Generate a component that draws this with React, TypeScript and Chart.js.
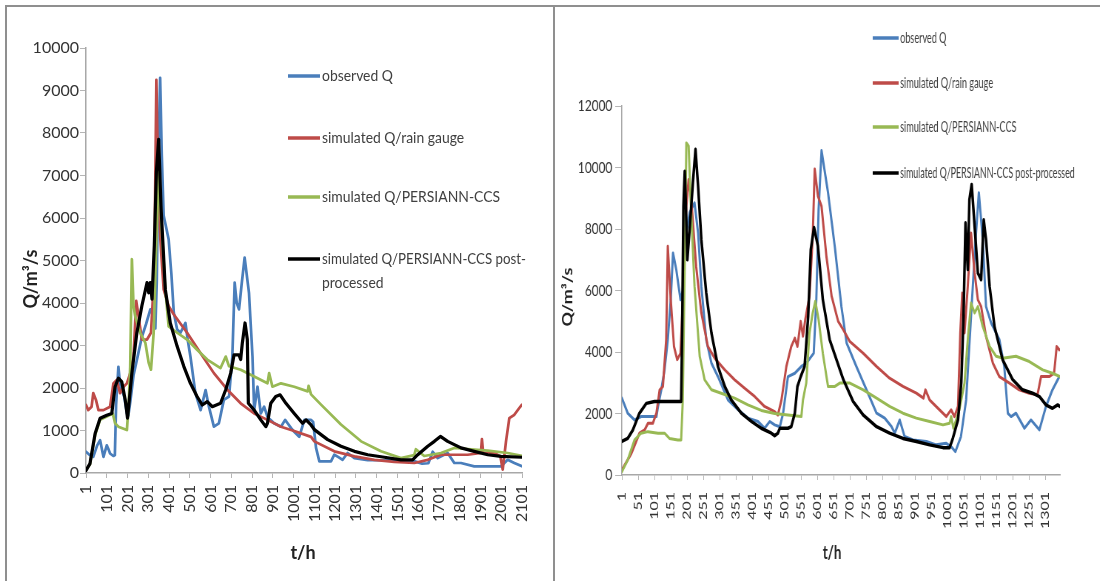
import React, { useEffect, useRef } from "react";
import { Chart, registerables } from "chart.js";

Chart.register(...registerables);

// ---------- series names / colours ----------
const seriesNames = [
  "observed Q",
  "simulated Q/rain gauge",
  "simulated Q/PERSIANN-CCS",
  "simulated Q/PERSIANN-CCS post-processed",
];
const seriesColors = ["#4a7ebb", "#be4b48", "#98b954", "#000000"];

// ---------- axis ticks ----------
const leftXTicks = [1, 101, 201, 301, 401, 501, 601, 701, 801, 901, 1001, 1101, 1201, 1301, 1401, 1501, 1601, 1701, 1801, 1901, 2001, 2101];
const rightXTicks = [1, 51, 101, 151, 201, 251, 301, 351, 401, 451, 501, 551, 601, 651, 701, 751, 801, 851, 901, 951, 1001, 1051, 1101, 1151, 1201, 1251, 1301];
const leftYMax = 10000;
const leftYStep = 1000;
const rightYMax = 12000;
const rightYStep = 2000;
const leftXMax = 2101;
const rightXMax = 1346;

type Pt = [number, number];

// ---------- left panel data: [t (h), Q (m3/s)] ----------
const leftObserved: Pt[] = [[1,500],[20,420],[36,380],[55,650],[69,770],[85,380],[101,650],[110,550],[117,460],[133,400],[140,420],[146,1600],[157,2500],[165,2100],[173,1950],[185,1800],[198,1400],[205,1350],[215,1700],[230,2300],[250,2750],[270,3200],[290,3500],[311,3850],[325,3700],[335,3400],[342,4500],[350,7500],[358,9300],[366,7500],[375,6060],[399,5500],[412,4700],[424,3770],[440,3375],[456,3300],[480,3530],[492,3100],[504,2740],[528,1880],[553,1480],[577,1950],[593,1560],[617,1090],[641,1170],[665,1720],[690,1800],[706,2740],[717,4480],[727,4000],[738,3850],[752,4500],[765,5070],[786,4240],[803,2740],[811,1480],[827,2030],[843,1400],[859,1560],[875,1320],[907,1170],[940,1090],[960,1250],[972,1170],[990,1050],[1004,970],[1028,850],[1053,1250],[1085,1250],[1095,1200],[1109,590],[1125,275],[1181,275],[1197,430],[1215,380],[1237,310],[1261,470],[1294,350],[1358,300],[1450,300],[1530,290],[1581,280],[1620,220],[1650,230],[1671,500],[1695,350],[1743,470],[1775,235],[1807,235],[1871,157],[2000,157],[2032,310],[2064,235],[2101,157]];
const leftRainGauge: Pt[] = [[1,1600],[12,1480],[28,1560],[36,1880],[49,1720],[61,1480],[85,1480],[117,1560],[133,2110],[149,2190],[165,1880],[182,2030],[198,2110],[214,2350],[230,2740],[243,4050],[254,3690],[270,3140],[295,3140],[314,3300],[330,4720],[340,9250],[348,7080],[359,5500],[375,4320],[399,3930],[424,3730],[488,3300],[553,2820],[617,2350],[682,1960],[746,1640],[811,1400],[875,1250],[940,1090],[1004,990],[1085,850],[1101,745],[1197,510],[1294,390],[1390,310],[1486,260],[1582,235],[1647,310],[1711,430],[1775,430],[1839,430],[1903,470],[1908,800],[1914,470],[1968,470],[1997,390],[2008,80],[2024,745],[2040,1290],[2064,1370],[2088,1530],[2101,1610]];
const leftPersiann: Pt[] = [[1,80],[20,200],[45,900],[69,1250],[101,1330],[130,1400],[141,1170],[157,1090],[198,1010],[206,1560],[214,2500],[222,5030],[230,3930],[238,3690],[262,3300],[287,3060],[303,2590],[314,2430],[327,3300],[340,5500],[351,7080],[359,6290],[383,4320],[399,3450],[440,3300],[488,3140],[536,2900],[585,2670],[649,2470],[674,2740],[690,2510],[746,2430],[811,2270],[875,2110],[883,2350],[899,2030],[940,2110],[1004,2030],[1069,1920],[1073,2050],[1085,1850],[1133,1610],[1229,1140],[1326,745],[1422,510],[1518,350],[1582,420],[1590,560],[1630,400],[1711,470],[1775,590],[1839,565],[1936,525],[2032,470],[2101,400]];
const leftPostProcessed: Pt[] = [[1,60],[20,220],[45,930],[69,1290],[101,1360],[125,1400],[141,2030],[157,2230],[173,2150],[190,1720],[201,1290],[222,2350],[246,3300],[270,3930],[295,4480],[303,4240],[311,4480],[319,4090],[330,5350],[340,7080],[351,7850],[362,6290],[383,4320],[407,3530],[440,2980],[472,2510],[504,2110],[536,1800],[561,1600],[585,1680],[609,1560],[649,1640],[674,1960],[698,2350],[714,2780],[738,2780],[746,2670],[754,3060],[767,3530],[778,3140],[783,1640],[811,1480],[843,1250],[867,1090],[875,1170],[891,1640],[915,1800],[936,1840],[964,1640],[1004,1400],[1044,1170],[1061,1250],[1085,1130],[1101,1020],[1165,785],[1229,630],[1294,510],[1358,430],[1438,370],[1518,310],[1574,310],[1599,430],[1647,630],[1679,745],[1708,860],[1743,745],[1807,590],[1871,510],[1936,430],[2000,390],[2101,370]];

// ---------- right panel data: [t (h), Q (m3/s)] ----------
const rightObserved: Pt[] = [[1,2500],[19,2010],[40,1790],[60,1900],[107,1900],[112,2230],[122,2770],[132,3420],[142,4400],[151,5700],[158,7220],[168,6680],[181,5700],[188,6000],[194,7550],[209,8530],[224,8850],[235,7870],[245,6140],[260,4400],[276,3640],[296,3200],[327,2440],[358,2120],[388,1850],[419,1740],[439,1520],[455,1740],[470,1630],[486,1570],[496,2010],[511,3200],[532,3310],[552,3530],[568,3640],[583,3860],[590,3960],[598,5700],[605,8630],[614,10550],[634,9180],[655,7400],[675,5480],[691,4290],[721,3530],[752,2770],[783,2010],[808,1850],[829,1570],[839,1360],[854,1790],[869,1250],[895,1140],[936,1090],[966,980],[997,1030],[1012,920],[1025,760],[1042,1250],[1058,2440],[1073,5160],[1087,7660],[1097,9180],[1109,7660],[1119,5480],[1135,4940],[1160,4400],[1175,3530],[1186,2010],[1196,1900],[1211,2010],[1237,1520],[1257,1790],[1283,1470],[1303,2230],[1323,2770],[1344,3200]];
const rightRainGauge: Pt[] = [[1,160],[30,700],[55,1360],[71,1470],[81,1680],[96,1680],[107,2010],[117,2770],[127,2880],[137,4400],[142,7440],[151,5700],[161,4180],[171,3750],[181,3960],[188,5700],[199,8740],[206,9610],[214,8960],[229,6790],[245,5270],[265,4180],[286,3800],[317,3420],[347,3100],[378,2820],[409,2550],[439,2230],[470,2060],[480,1950],[491,2440],[506,3530],[521,4180],[532,4450],[540,4180],[550,5000],[557,4510],[564,5050],[577,5810],[587,7770],[593,9950],[603,9070],[614,8740],[629,7110],[645,5810],[665,5000],[681,4720],[701,4340],[742,3960],[783,3530],[823,3150],[864,2880],[905,2660],[927,2500],[933,2770],[946,2440],[976,2120],[997,1900],[1012,2120],[1022,1900],[1033,2230],[1040,4620],[1046,5920],[1053,4620],[1063,6140],[1073,7870],[1084,6570],[1094,5700],[1104,5480],[1119,4510],[1140,3640],[1160,3200],[1191,2990],[1221,2770],[1252,2660],[1277,2610],[1288,3200],[1313,3200],[1328,3310],[1336,4180],[1344,4070]];
const rightPersiann: Pt[] = [[1,110],[19,490],[40,1140],[60,1360],[81,1410],[112,1360],[132,1360],[147,1190],[173,1140],[183,1140],[188,2440],[194,6790],[199,10800],[206,10700],[212,8960],[224,6140],[240,3860],[255,3100],[276,2770],[306,2660],[347,2500],[388,2280],[429,2100],[470,2000],[511,1950],[552,1900],[557,2440],[567,2990],[577,4620],[587,5270],[595,5650],[605,5050],[618,3960],[634,2880],[655,2880],[670,2990],[701,2990],[742,2770],[783,2500],[823,2230],[864,2010],[905,1850],[946,1740],[987,1630],[1007,1680],[1012,1900],[1019,1520],[1037,2120],[1053,2990],[1063,4400],[1073,5590],[1084,5270],[1094,5480],[1109,4830],[1130,4180],[1150,3860],[1170,3800],[1211,3860],[1252,3690],[1293,3420],[1323,3310],[1346,3200]];
const rightPostProcessed: Pt[] = [[1,1090],[19,1190],[35,1470],[55,2010],[76,2330],[101,2390],[183,2390],[186,4620],[190,8740],[194,9880],[198,8630],[202,7000],[209,7980],[219,9500],[227,10590],[235,9390],[245,7660],[260,5920],[276,4620],[296,3530],[317,2880],[337,2440],[368,2010],[399,1740],[429,1520],[460,1360],[470,1280],[480,1360],[486,1520],[511,1520],[521,1570],[532,2010],[540,2880],[550,3200],[562,3530],[573,5160],[581,7330],[591,8050],[603,7440],[618,5700],[639,4400],[660,3750],[681,3100],[711,2390],[742,1950],[783,1570],[823,1360],[864,1190],[905,1090],[946,980],[987,890],[1007,890],[1017,1190],[1033,1790],[1043,2990],[1050,5160],[1056,8200],[1063,6680],[1068,8960],[1075,9450],[1084,8090],[1094,6570],[1104,6350],[1112,8300],[1119,7660],[1130,6140],[1145,4830],[1170,3750],[1201,3100],[1231,2770],[1262,2660],[1283,2550],[1303,2280],[1323,2170],[1339,2280],[1346,2230]];

// ---------- panel layout (canvas pixels) ----------
type Panel = {
  width: number; height: number;
  left: number; top: number; right: number; bottom: number;
  xMax: number; xTicks: number[]; yMax: number; yStep: number;
  series: Pt[][];
  lineW: number; blackW: number;
  yTickLen: number; yTickPad: number; xTickLen: number; xTickPad: number;
  legX1: number; legX2: number; legTextX: number; legYs: number[]; legFont: string; legSquash: number; legMaxW: number; legLineGap: number; legWrap: string | null;
  yTitle: [number, number]; xTitle: [number, number];
};

const leftPanel: Panel = {
  width: 546, height: 574, left: 79, top: 41, right: 515, bottom: 466,
  xMax: leftXMax, xTicks: leftXTicks, yMax: leftYMax, yStep: leftYStep,
  series: [leftObserved, leftRainGauge, leftPersiann, leftPostProcessed],
  lineW: 2.7, blackW: 3.2,
  yTickLen: 6, yTickPad: 1, xTickLen: 5, xTickPad: 7,
  legX1: 281, legX2: 313, legTextX: 315, legYs: [69, 131, 190, 252], legFont: "16px Lato", legSquash: 0.87, legMaxW: 204, legLineGap: 24, legWrap: "post-",
  yTitle: [24, 272], xTitle: [296, 546],
};

const rightPanel: Panel = {
  width: 735, height: 574, left: 89, top: 99, right: 681, bottom: 468,
  xMax: rightXMax, xTicks: rightXTicks, yMax: rightYMax, yStep: rightYStep,
  series: [rightObserved, rightRainGauge, rightPersiann, rightPostProcessed],
  lineW: 3.0, blackW: 3.5,
  yTickLen: 9, yTickPad: 4, xTickLen: 5, xTickPad: 12,
  legX1: 428, legX2: 463, legTextX: 465, legYs: [31, 76, 120, 166], legFont: "15px Lato", legSquash: 0.82, legMaxW: 236, legLineGap: 22, legWrap: null,
  yTitle: [16, 290], xTitle: [373, 546],
};

const TEXT = "#333333";

function makeOverlay(p: Panel) {
  return {
    id: "overlay",
    afterDraw(chart: any) {
      const ctx: CanvasRenderingContext2D = chart.ctx;
      ctx.save();
      // legend
      seriesNames.forEach((name, i) => {
        const y = p.legYs[i];
        ctx.strokeStyle = seriesColors[i];
        ctx.lineWidth = 3.5;
        ctx.beginPath();
        ctx.moveTo(p.legX1, y);
        ctx.lineTo(p.legX2, y);
        ctx.stroke();
        let lines = [name];
        if (p.legWrap && name.indexOf(p.legWrap) >= 0) {
          const k = name.indexOf(p.legWrap) + p.legWrap.length;
          lines = [name.slice(0, k), name.slice(k)];
        }
        ctx.font = p.legFont;
        ctx.fillStyle = "#404040";
        ctx.textAlign = "left";
        ctx.textBaseline = "middle";
        lines.forEach((ln, j) => {
          ctx.save();
          ctx.translate(p.legTextX, y + j * p.legLineGap);
          ctx.scale(p.legSquash, 1);
          ctx.fillText(ln, 0, 0, p.legMaxW / p.legSquash);
          ctx.restore();
        });
      });
      // axis titles
      ctx.fillStyle = "#222";
      ctx.textAlign = "center";
      ctx.textBaseline = "middle";
      ctx.save();
      ctx.translate(p.yTitle[0], p.yTitle[1]);
      ctx.rotate(-Math.PI / 2);
      ctx.font = "bold 18px Lato";
      ctx.fillText("Q/m³/s", 0, 0);
      ctx.restore();
      ctx.font = "bold 18px Lato";
      ctx.fillText("t/h", p.xTitle[0], p.xTitle[1]);
      ctx.restore();
    },
  };
}

function buildChart(canvas: HTMLCanvasElement, p: Panel) {
  return new Chart(canvas, {
    type: "line",
    data: {
      datasets: p.series.map((pts, i) => ({
        label: seriesNames[i],
        data: pts.map(([x, y]) => ({ x, y })),
        borderColor: seriesColors[i],
        backgroundColor: seriesColors[i],
        borderWidth: i === 3 ? p.blackW : p.lineW,
        borderJoinStyle: "round",
        borderCapStyle: "round",
        pointRadius: 0,
        tension: 0,
        fill: false,
        order: 3 - i,
      })),
    },
    options: {
      responsive: false,
      animation: false,
      devicePixelRatio: 1,
      events: [],
      layout: { padding: { top: p.top, right: p.width - p.right, left: 0, bottom: 0 } },
      plugins: { legend: { display: false }, tooltip: { enabled: false }, title: { display: false } },
      scales: {
        x: {
          type: "linear",
          min: 1,
          max: p.xMax,
          afterBuildTicks: (s: any) => { s.ticks = p.xTicks.map((v) => ({ value: v })); },
          afterFit: (s: any) => { s.height = p.height - p.bottom; },
          ticks: {
            autoSkip: false, minRotation: 90, maxRotation: 90, padding: p.xTickPad,
            color: TEXT, font: { family: "Lato", size: 16 },
            callback: (v: any) => String(v),
          },
          grid: { display: true, drawOnChartArea: false, drawTicks: true, tickLength: p.xTickLen, color: "#b5b5b5", lineWidth: 1 },
          border: { display: true, color: "#a8a8a8", width: 1.5 },
        },
        y: {
          type: "linear",
          min: 0,
          max: p.yMax,
          afterFit: (s: any) => { s.width = p.left; },
          ticks: {
            stepSize: p.yStep, padding: p.yTickPad,
            color: TEXT, font: { family: "Lato", size: 16 },
            callback: (v: any) => String(v),
          },
          grid: { display: true, drawOnChartArea: false, drawTicks: true, tickLength: p.yTickLen, color: "#b5b5b5", lineWidth: 1 },
          border: { display: true, color: "#a8a8a8", width: 1.5 },
        },
      },
    } as any,
    plugins: [makeOverlay(p)],
  } as any);
}

export default function App() {
  const leftRef = useRef<HTMLCanvasElement>(null);
  const rightRef = useRef<HTMLCanvasElement>(null);
  useEffect(() => {
    const a = buildChart(leftRef.current!, leftPanel);
    const b = buildChart(rightRef.current!, rightPanel);
    return () => { a.destroy(); b.destroy(); };
  }, []);
  const frame = "#8f8f8f";
  return (
    <div style={{ position: "absolute", left: 0, top: 0, width: 1100, height: 581, background: "#fff", overflow: "hidden" }}>
      <div style={{ position: "absolute", left: 5, top: 5, width: 1095, height: 2, background: frame }} />
      <div style={{ position: "absolute", left: 5, top: 5, width: 2, height: 576, background: frame }} />
      <div style={{ position: "absolute", left: 553, top: 5, width: 2, height: 576, background: frame }} />
      <canvas ref={leftRef} width={546} height={574}
        style={{ position: "absolute", left: 7, top: 7, width: 546, height: 574 }} />
      <canvas ref={rightRef} width={735} height={574}
        style={{ position: "absolute", left: 556, top: 7, width: 735, height: 574, transform: "scaleX(0.74)", transformOrigin: "0 0" }} />
    </div>
  );
}
